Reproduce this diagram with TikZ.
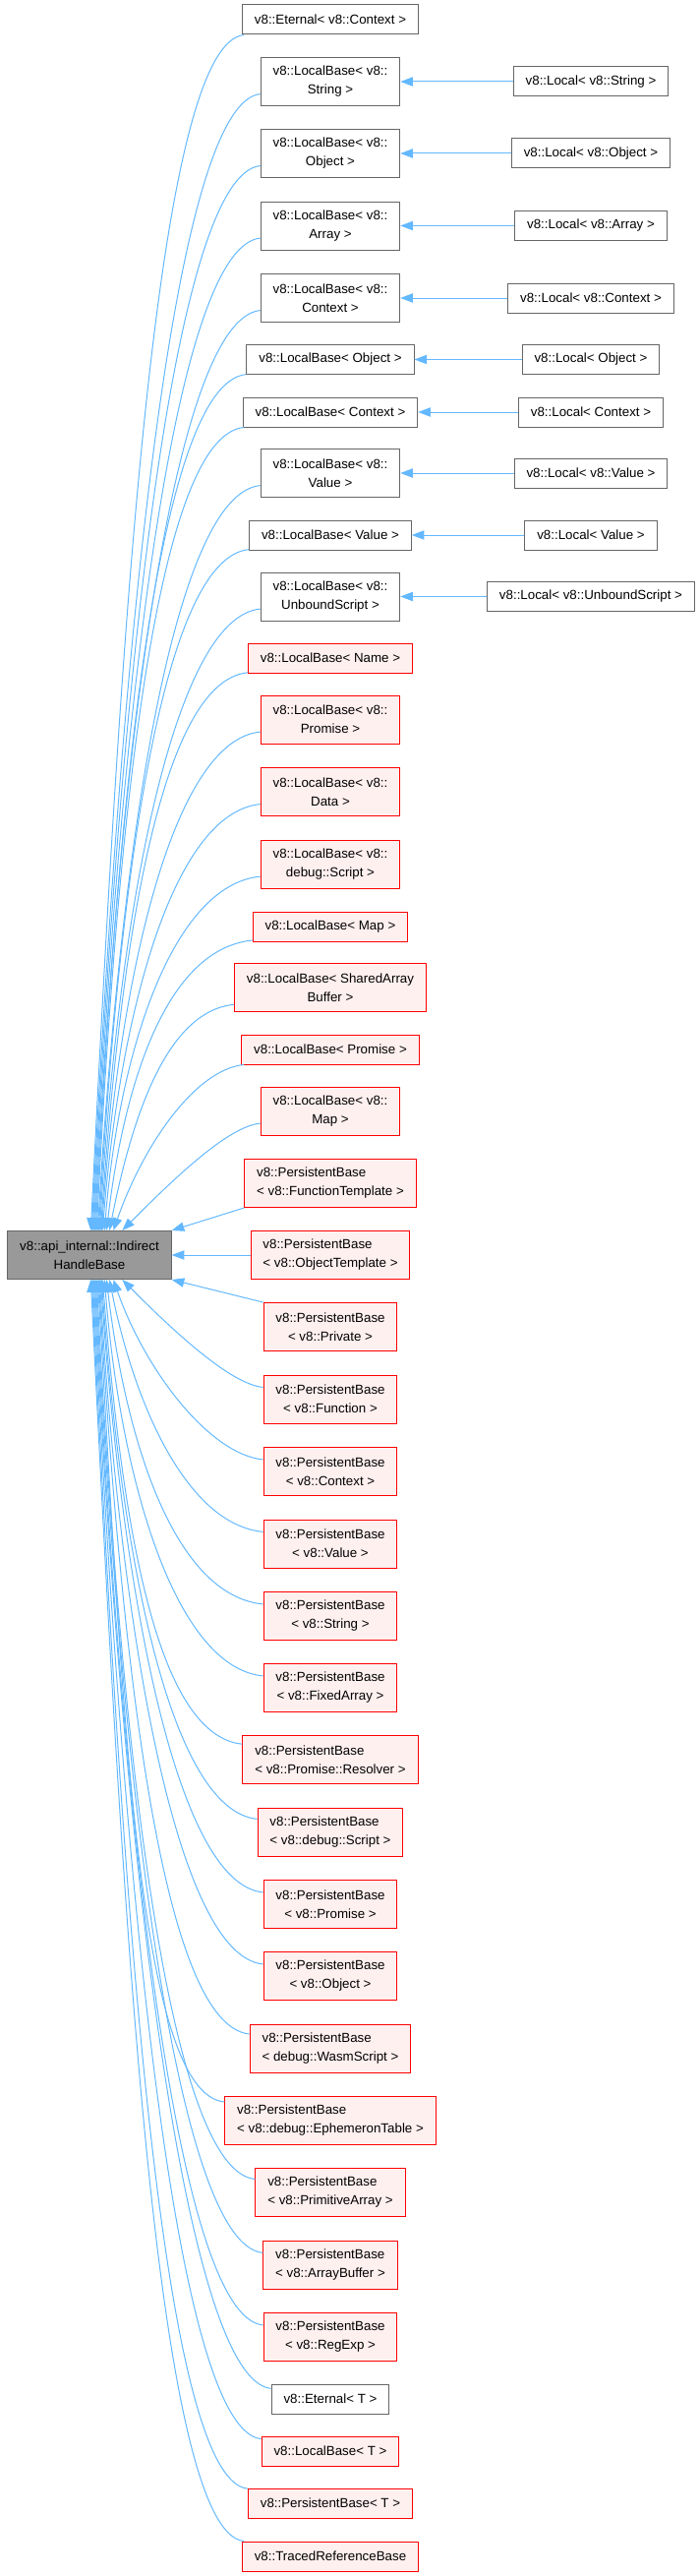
\documentclass[tikz,border=0pt]{standalone}
\usepackage{fontspec}
\setmainfont{Liberation Sans}
\usetikzlibrary{calc,arrows.meta}
\definecolor{edgeblue}{HTML}{63B8FF}
\definecolor{nodegrey}{HTML}{666666}
\definecolor{basefill}{HTML}{999999}
\definecolor{redfill}{HTML}{FFF0F0}
\tikzset{
  inh/.style   = {draw=edgeblue, line width=0.75pt,
                  -{Triangle[length=9.5pt,width=7pt]}},
  cls/.style   = {draw=nodegrey, fill=white, line width=0.75pt, inner xsep=9.3pt,
                  inner ysep=2pt, minimum height=22.5pt, align=center,
                  font=\fontsize{10}{14.25}\selectfont},
  rcls/.style  = {cls, draw=red, fill=redfill},
  bcls/.style  = {cls, fill=basefill},
  dbl/.style   = {minimum height=36.75pt},
}

\begin{document}
\begin{tikzpicture}[x=0.75pt,y=-0.75pt]
  \useasboundingbox (0,0) rectangle (711,2619);
  % base class
  \node[bcls,dbl] (base) at (91,1276) {v8::api\_internal::Indirect\\HandleBase};
  % derived classes above the base
  \node[cls] (etctx) at (336,20) {v8::Eternal< v8::Context >};
  \node[cls,dbl] (lbstr) at (336,83) {v8::LocalBase< v8::\\String >};
  \node[cls,dbl] (lbobj) at (336,156) {v8::LocalBase< v8::\\Object >};
  \node[cls,dbl] (lbarr) at (336,229.5) {v8::LocalBase< v8::\\Array >};
  \node[cls,dbl] (lbctx) at (336,303) {v8::LocalBase< v8::\\Context >};
  \node[cls] (lbobject) at (336,365.5) {v8::LocalBase< Object >};
  \node[cls] (lbcontext) at (336,419) {v8::LocalBase< Context >};
  \node[cls,dbl] (lbval) at (336,481) {v8::LocalBase< v8::\\Value >};
  \node[cls] (lbvalue) at (336,544) {v8::LocalBase< Value >};
  \node[cls,dbl] (lbunb) at (336,606.5) {v8::LocalBase< v8::\\UnboundScript >};
  \node[rcls] (lbname) at (336,669) {v8::LocalBase< Name >};
  \node[rcls,dbl] (lbprom) at (336,731.5) {v8::LocalBase< v8::\\Promise >};
  \node[rcls,dbl] (lbdata) at (336,805) {v8::LocalBase< v8::\\Data >};
  \node[rcls,dbl] (lbdscr) at (336,878.5) {v8::LocalBase< v8::\\debug::Script >};
  \node[rcls] (lbmap) at (336,942) {v8::LocalBase< Map >};
  \node[rcls,dbl] (lbsab) at (336,1004) {v8::LocalBase< SharedArray\\Buffer >};
  \node[rcls] (lbpromise) at (336,1067) {v8::LocalBase< Promise >};
  \node[rcls,dbl] (lbvmap) at (336,1129.5) {v8::LocalBase< v8::\\Map >};
  \node[rcls,dbl,align=left] (pbft) at (336,1203) {v8::PersistentBase\\< v8::FunctionTemplate >};
  \node[rcls,dbl,align=left] (pbot) at (336,1276) {v8::PersistentBase\\< v8::ObjectTemplate >};
  % derived classes below the base
  \node[rcls,dbl] (pbpriv) at (336,1349) {v8::PersistentBase\\< v8::Private >};
  \node[rcls,dbl] (pbfunc) at (336,1422.5) {v8::PersistentBase\\< v8::Function >};
  \node[rcls,dbl] (pbctx) at (336,1496) {v8::PersistentBase\\< v8::Context >};
  \node[rcls,dbl] (pbval) at (336,1569.5) {v8::PersistentBase\\< v8::Value >};
  \node[rcls,dbl] (pbstr) at (336,1643) {v8::PersistentBase\\< v8::String >};
  \node[rcls,dbl] (pbfix) at (336,1716) {v8::PersistentBase\\< v8::FixedArray >};
  \node[rcls,dbl,align=left] (pbres) at (336,1789) {v8::PersistentBase\\< v8::Promise::Resolver >};
  \node[rcls,dbl,align=left] (pbdscr) at (336,1862.5) {v8::PersistentBase\\< v8::debug::Script >};
  \node[rcls,dbl] (pbprom) at (336,1936) {v8::PersistentBase\\< v8::Promise >};
  \node[rcls,dbl] (pbobj) at (336,2009) {v8::PersistentBase\\< v8::Object >};
  \node[rcls,dbl,align=left] (pbwasm) at (336,2082.5) {v8::PersistentBase\\< debug::WasmScript >};
  \node[rcls,dbl,align=left] (pbeph) at (336,2156) {v8::PersistentBase\\< v8::debug::EphemeronTable >};
  \node[rcls,dbl,align=left] (pbprim) at (336,2229) {v8::PersistentBase\\< v8::PrimitiveArray >};
  \node[rcls,dbl,align=left] (pbab) at (336,2302.5) {v8::PersistentBase\\< v8::ArrayBuffer >};
  \node[rcls,dbl] (pbre) at (336,2376) {v8::PersistentBase\\< v8::RegExp >};
  \node[cls] (ett) at (336,2439) {v8::Eternal< T >};
  \node[rcls] (lbt) at (336,2492) {v8::LocalBase< T >};
  \node[rcls] (pbt) at (336,2545) {v8::PersistentBase< T >};
  \node[rcls] (trb) at (336,2599) {v8::TracedReferenceBase};
  % second level: Local<> classes
  \node[cls] (lstr) at (601,83) {v8::Local< v8::String >};
  \node[cls] (lobj) at (601,156) {v8::Local< v8::Object >};
  \node[cls] (larr) at (601,229.5) {v8::Local< v8::Array >};
  \node[cls] (lctx) at (601,303) {v8::Local< v8::Context >};
  \node[cls] (lobject) at (601,365.5) {v8::Local< Object >};
  \node[cls] (lcontext) at (601,419) {v8::Local< Context >};
  \node[cls] (lval) at (601,481) {v8::Local< v8::Value >};
  \node[cls] (lvalue) at (601,544) {v8::Local< Value >};
  \node[cls] (lunb) at (601,606.5) {v8::Local< v8::UnboundScript >};

  % inheritance arrows into the top of the base
  \foreach \cl/\tx/\f in {etctx/85/0.05, lbstr/86/0.05, lbobj/87/0.05, lbarr/88/0.05,
      lbctx/89/0.05, lbobject/90/0.05, lbcontext/91/0.05, lbval/92/0.06,
      lbvalue/93/0.06, lbunb/94/0.06, lbname/95/0.07, lbprom/96/0.07,
      lbdata/97/0.08, lbdscr/99/0.08, lbmap/101/0.12, lbsab/104/0.2,
      lbpromise/108/0.35, lbvmap/117/1.0}
    \draw[inh] let \p1 = (\cl.190), \p3 = ($(base.north west)+(\tx,0)$),
      \n1 = {\y1-\y3}, \n2 = {min(0.3*\n1,67.5pt)}, \n3 = {0.5*\n1} in
      (\p1) .. controls (\x1-\n2, \y1-0.1*\n2) and (\x3+\f*\n3, \y3+\n3) .. (\p3);
  % inheritance arrows into the bottom of the base
  \foreach \cl/\tx/\f in {pbfunc/117/1.0, pbctx/108/0.35, pbval/104/0.2, pbstr/101/0.12,
      pbfix/99/0.08, pbres/97/0.08, pbdscr/96/0.07, pbprom/95/0.07,
      pbobj/94/0.06, pbwasm/93/0.06, pbeph/92/0.06, pbprim/91/0.05,
      pbab/90/0.05, pbre/89/0.05, ett/88/0.05, lbt/87/0.05, pbt/86/0.05, trb/85/0.05}
    \draw[inh] let \p1 = (\cl.170), \p3 = ($(base.south west)+(\tx,0)$),
      \n1 = {\y3-\y1}, \n2 = {min(0.3*\n1,67.5pt)}, \n3 = {0.5*\n1} in
      (\p1) .. controls (\x1-\n2, \y1+0.1*\n2) and (\x3+\f*\n3, \y3-\n3) .. (\p3);
  % nearest ones go straight
  \draw[inh] (pbft.south west) -- (base.north east);
  \draw[inh] (pbot.west) -- (base.east);
  \draw[inh] (pbpriv.north west) -- (base.south east);
  % Local<> -> LocalBase<>
  \foreach \a/\b in {lstr/lbstr, lobj/lbobj, larr/lbarr, lctx/lbctx, lobject/lbobject,
      lcontext/lbcontext, lval/lbval, lvalue/lbvalue, lunb/lbunb}
    \draw[inh] (\a.west) -- (\b.east);
\end{tikzpicture}
\end{document}
